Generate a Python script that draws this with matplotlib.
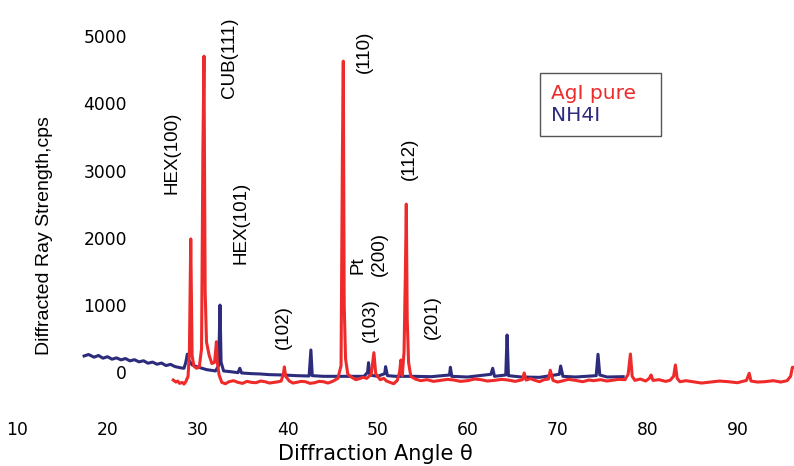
import matplotlib
matplotlib.use("Agg")
import matplotlib.pyplot as plt

# ---- data ----
agi_x = [27.3, 27.6, 27.8, 28.0, 28.3, 28.5, 28.7, 28.95, 29.1, 29.25, 29.4, 29.6, 29.9, 30.2, 30.45,
         30.6, 30.72, 30.85, 31.0, 31.3, 31.6, 31.9, 32.0, 32.1, 32.2, 32.4, 32.7, 33.1, 33.5, 34.0,
         34.5, 35.0, 35.5, 36.0, 36.5, 37.0, 37.5, 38.0, 38.5, 39.0, 39.3, 39.55, 39.65, 39.8,
         40.2, 40.6, 41.0, 41.5, 42.0, 42.5, 43.0, 43.5, 44.0, 44.5, 45.0, 45.6, 45.95, 46.1,
         46.2, 46.3, 46.45, 46.7, 47.2, 47.6, 48.0, 48.4, 48.8, 49.3, 49.6, 49.8, 50.3, 50.7,
         51.0, 51.4, 51.8, 52.2, 52.45, 52.6, 52.75, 52.95, 53.1, 53.2, 53.3, 53.45, 53.7, 54.2,
         54.8, 55.5, 56.2, 57.0, 57.8, 58.5, 59.2, 60.0, 60.8, 61.5, 62.2, 63.0, 63.8, 64.5,
         65.3, 66.1, 66.3, 66.5, 67.0, 67.5, 68.0, 68.5, 69.0, 69.2, 69.5, 70.0, 70.5, 71.2,
         72.0, 72.8, 73.5, 74.0, 74.8, 75.5, 76.0, 76.8, 77.5, 77.85, 78.1, 78.3, 78.6, 79.2,
         79.8, 80.2, 80.4, 80.6, 81.3, 82.0, 82.5, 82.9, 83.1, 83.3, 83.6, 84.3, 85.0, 86.0,
         87.0, 88.0, 89.0, 90.0, 91.0, 91.3, 91.5, 92.2, 93.0, 94.0, 94.8, 95.5, 95.9, 96.1, 96.3]
agi_y = [-115, -145, -130, -165, -150, -175, -140, -60, 300, 1985, 250, 90, 60, 80, 350,
         3300, 4705, 1200, 450, 250, 130, 150, 300, 455, 150, -40, -150, -170, -140, -125,
         -150, -165, -135, -150, -155, -130, -140, -160, -150, -140, -130, -20, 80, -60,
         -130, -160, -150, -135, -140, -165, -155, -135, -140, -160, -135, -90, 100, 3200,
         4630, 1000, 200, -30, -80, -110, -95, -75, -90, -30, 292, -20, -110, -90,
         -130, -150, -170, -120, 0, 183, -50, 300, 1500, 2503, 800, 150, -60, -100,
         -125, -110, -135, -120, -105, -115, -135, -125, -100, -110, -130, -120, -105, -115,
         -135, -110, -10, -115, -95, -120, -140, -110, -100, 30, -120, -145, -130, -105,
         -120, -140, -115, -125, -110, -130, -120, -105, -110, -30, 272, -60, -120, -100,
         -130, -90, -40, -120, -110, -135, -120, -60, 109, -90, -140, -125, -140, -160,
         -145, -130, -140, -155, -120, -15, -130, -145, -140, -125, -145, -125, -60, 75, 70]

nh4i_x = [17.4, 17.9, 18.5, 19.0, 19.5, 20.0, 20.5, 21.0, 21.5, 22.0, 22.5, 23.0, 23.5, 24.0,
          24.5, 25.0, 25.5, 26.0, 26.5, 27.0, 27.5, 28.2, 28.5, 28.7, 28.87, 29.05, 29.4, 30.0,
          30.5, 31.0, 31.5, 32.0, 32.35, 32.5, 32.62, 32.9, 33.6, 34.5, 34.7, 34.9, 36.0, 37.0,
          38.0, 39.5, 41.0, 42.4, 42.6, 42.75, 44.0, 45.5, 47.0, 48.5, 48.9, 49.0, 49.15, 50.0,
          50.8, 50.9, 51.1, 52.0, 54.0, 56.0, 58.0, 58.1, 58.25, 60.0, 62.6, 62.8, 63.0, 64.25,
          64.4, 64.55, 66.0, 68.0, 70.2, 70.35, 70.6, 72.0, 74.3, 74.5, 74.7, 75.5, 77.3]
nh4i_y = [243, 265, 225, 250, 210, 232, 195, 215, 185, 205, 170, 188, 155, 172,
          135, 152, 120, 138, 100, 118, 85, 65, 60, 150, 270, 180, 110, 80,
          60, 40, 30, 20, 100, 1000, 150, 20, 10, -5, 60, -10, -20, -25,
          -35, -40, -50, -55, 332, -50, -60, -60, -60, -60, 0, 143, -40, -60,
          -20, 84, -50, -60, -60, -65, -40, 75, -60, -70, -30, 60, -60, -40,
          555, -50, -70, -75, -30, 94, -60, -70, -50, 268, -40, -70, -65]

series_labels = ["AgI pure", "NH4I"]
x_ticks = [10, 20, 30, 40, 50, 60, 70, 80, 90]
y_ticks = [0, 1000, 2000, 3000, 4000, 5000]

peak_labels = ["HEX(100)", "CUB(111)", "HEX(101)", "(102)", "(110)", "Pt", "(200)",
               "(103)", "(112)", "(201)"]
peak_label_x = [27.13, 33.6, 34.8, 39.5, 48.5, 47.8, 50.17, 49.17, 53.5, 56.1]
peak_label_y = [3271, 4685, 2217, 667, 4771, 1597, 1760, 778, 3184, 827]

# ---- styling ----
RED = "#ee2a2a"
BLUE = "#2d2c7c"
ARIAL = ["Liberation Sans", "DejaVu Sans"]
WIDE = ["DejaVu Sans"]
plt.rcParams["font.family"] = ARIAL

fig = plt.figure(figsize=(7.94, 4.66), dpi=100)
ax = fig.add_axes([0, 0, 1, 1])

# pixel mapping: x = (px + 72.5)/9 ; y = (372.3 - py)/0.0672
ax.set_xlim(72.5 / 9, (794 + 72.5) / 9)
ax.set_ylim((372.3 - 466) / 0.0672, 372.3 / 0.0672)

ln_b, = ax.plot(nh4i_x, nh4i_y, color=BLUE, lw=2.2, label=series_labels[1], zorder=2)
ln_r, = ax.plot(agi_x, agi_y, color=RED, lw=2.2, label=series_labels[0], zorder=3)

for s in ax.spines.values():
    s.set_visible(False)
ax.spines["bottom"].set_position(("data", (372.3 - 421) / 0.0672))
ax.spines["left"].set_position(("data", (127 + 72.5) / 9))
ax.set_xticks(x_ticks)
ax.set_xticklabels([str(v) for v in x_ticks])
ax.set_yticks(y_ticks)
ax.set_yticklabels([str(v) for v in y_ticks])
ax.tick_params(axis="both", length=0, labelsize=12.3, pad=0)
for t in ax.get_xticklabels() + ax.get_yticklabels():
    t.set_family(WIDE)
ax.set_facecolor("none")

for lab, tx, ty in zip(peak_labels, peak_label_x, peak_label_y):
    ax.text(tx, ty, lab, rotation=90, ha="center", va="center", fontsize=13.5, color="black")

leg = ax.legend(handles=[ln_r, ln_b], loc="upper left",
                bbox_to_anchor=(540 / 794, 1 - 134 / 466, 121 / 794, 61 / 466), mode="expand",
                borderaxespad=0, handlelength=0, handletextpad=0, fancybox=False,
                prop={"family": WIDE, "size": 14.5}, labelspacing=0.15, borderpad=0.55,
                framealpha=1)
leg.get_frame().set_edgecolor("#555555")
leg.get_frame().set_linewidth(1.0)
for h in leg.legend_handles:
    h.set_visible(False)
for t, c in zip(leg.get_texts(), [RED, BLUE]):
    t.set_color(c)

fig.text(44.5 / 794, 1 - 236 / 466, "Diffracted Ray Strength,cps", rotation=90,
         ha="center", va="center", fontsize=14)
fig.text(375 / 794, 1 - 460 / 466, "Diffraction Angle \u03b8", ha="center", va="baseline",
         fontsize=15, family=WIDE)

fig.savefig("out.png", dpi=100)
